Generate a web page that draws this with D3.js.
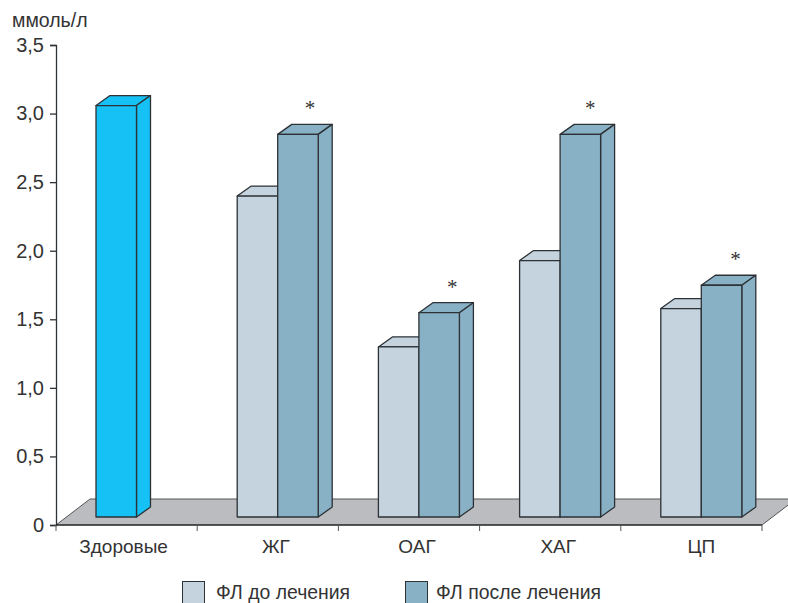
<!DOCTYPE html>
<html>

<head>
    <meta charset="utf-8">
    <title></title>
    <script src="https://d3js.org/d3.v7.min.js"></script>
    <style>
        html,
        body {
            margin: 0;
            background: #fff;
        }

        text {
            font-family: "Liberation Sans", Arial, sans-serif;
            fill: #333;
        }
    </style>
</head>

<body>
    <div id="chart"></div>

    <script>
        // values
        const categories = ["Здоровые", "ЖГ", "ОАГ", "ХАГ", "ЦП"];
        const seriesNames = ["ФЛ до лечения", "ФЛ после лечения"];
        const before = [3.0, 2.34, 1.24, 1.87, 1.52];
        const after = [null, 2.79, 1.49, 2.79, 1.69];
        const marked = [false, true, true, true, true];
        const yTicks = [0, 0.5, 1, 1.5, 2, 2.5, 3, 3.5];

        const colors = { healthy: "#15c1f5", before: "#c5d3de", after: "#89b1c6" };
        const stroke = "#2c3236";

        const width = 788, height = 603;
        const margin = { left: 56, right: 762, top: 45, bottom: 525 };
        const dx = 14, dy = -10;        // depth of the bars
        const floorX = 34, floorY = -26; // depth of the floor
        const lift = 8;                 // bars stand this far above the front edge

        // hand placed nudges, the original labels are not centred on the bands
        const labelShift = [-3, 8, 8, 8, 10];
        const markShift = [0, 0, 1, -2, 2];

        const svg = d3.select("#chart")
            .append("svg")
            .attr("width", width)
            .attr("height", height)
            .style("display", "block");

        const x = d3.scaleBand()
            .domain(categories)
            .range([margin.left, margin.right]);

        const slot = d3.scaleBand()
            .domain(["before", "after"])
            .range([40, 121]);

        const y = d3.scaleLinear()
            .domain([0, 3.5])
            .range([margin.bottom, margin.top]);

        // floor
        svg.append("polygon")
            .attr("points", [
                [margin.left, margin.bottom], [margin.left + floorX, margin.bottom + floorY],
                [margin.right + floorX, margin.bottom + floorY], [margin.right, margin.bottom]
            ].join(" "))
            .attr("fill", "#bbbcc0");

        svg.append("path")
            .attr("d", `M${margin.left},${margin.bottom}L${margin.left + floorX},${margin.bottom + floorY}H${margin.right + floorX - 1}`)
            .attr("fill", "none")
            .attr("stroke", "#555")
            .attr("stroke-width", 1);

        svg.append("path")
            .attr("d", `M${margin.right},${margin.bottom}L${margin.right + floorX},${margin.bottom + floorY}`)
            .attr("fill", "none")
            .attr("stroke", "#555")
            .attr("stroke-width", 1);

        // one 3d bar
        function bar(g, x0, w, value, fill) {
            const x1 = x0 + w;
            const y0 = y(0) - lift;
            const yt = y(value) - lift;
            const g1 = g.append("g")
                .attr("fill", fill)
                .attr("stroke", stroke)
                .attr("stroke-width", 1.3)
                .attr("stroke-linejoin", "round");
            g1.append("path").attr("d", `M${x0},${yt}l${dx},${dy}H${x1 + dx}L${x1},${yt}Z`);
            g1.append("path").attr("d", `M${x1},${yt}l${dx},${dy}V${y0 + dy}L${x1},${y0}Z`);
            g1.append("rect")
                .attr("x", x0)
                .attr("y", yt)
                .attr("width", w)
                .attr("height", y0 - yt);
        }

        const bars = svg.append("g");
        categories.forEach((c, i) => {
            const x0 = x(c);
            bar(bars, x0 + slot("before"), slot.bandwidth(), before[i], i === 0 ? colors.healthy : colors.before);
            if (after[i] !== null) {
                bar(bars, x0 + slot("after"), slot.bandwidth(), after[i], colors.after);
            }
        });

        // significance marks
        svg.append("g").selectAll("text")
            .data(categories.filter((c, i) => marked[i]))
            .enter()
            .append("text")
            .attr("x", d => x(d) + slot("after") + slot.bandwidth() / 2 + 12 + markShift[categories.indexOf(d)])
            .attr("y", d => y(after[categories.indexOf(d)]) - lift - 19)
            .attr("text-anchor", "middle")
            .style("font-family", "'Liberation Serif', serif")
            .style("font-size", "21px")
            .text("*");

        // axes
        const yAxis = svg.append("g")
            .attr("transform", `translate(${margin.left},0)`)
            .call(d3.axisLeft(y)
                .tickValues(yTicks)
                .tickSize(6)
                .tickPadding(6)
                .tickFormat(d => d === 0 ? "0" : d3.format(".1f")(d).replace(".", ",")));

        yAxis.select(".domain").attr("stroke", stroke).attr("stroke-width", 1.3);
        yAxis.selectAll(".tick line").attr("stroke", stroke).attr("stroke-width", 1.3);
        yAxis.attr("font-family", null).attr("font-size", null);
        yAxis.selectAll(".tick text")
            .style("font-size", "20px");

        const xAxis = svg.append("g")
            .attr("transform", `translate(0,${margin.bottom})`)
            .call(d3.axisBottom(x).tickSize(0).tickPadding(15));

        xAxis.select(".domain").remove();
        xAxis.attr("font-family", null).attr("font-size", null);
        xAxis.selectAll(".tick text")
            .attr("dx", (d, i) => labelShift[i])
            .style("font-size", "19px");

        svg.append("line")
            .attr("x1", margin.left).attr("x2", margin.right)
            .attr("y1", margin.bottom).attr("y2", margin.bottom)
            .attr("stroke", "#222")
            .attr("stroke-width", 1.6);

        // ticks between the categories
        svg.append("g").selectAll("line")
            .data(categories.map(c => x(c)).concat([margin.right]))
            .enter()
            .append("line")
            .attr("x1", d => d).attr("x2", d => d)
            .attr("y1", margin.bottom).attr("y2", margin.bottom + 6)
            .attr("stroke", "#555");

        svg.append("text")
            .attr("x", 12)
            .attr("y", 27)
            .style("font-size", "19.5px")
            .text("ммоль/л");

        // legend
        const legendX = [182, 405];
        const legendText = [216, 436];
        const legend = svg.append("g");
        seriesNames.forEach((name, i) => {
            legend.append("rect")
                .attr("x", legendX[i] + 0.5)
                .attr("y", 581.5)
                .attr("width", 22)
                .attr("height", 22)
                .attr("fill", i === 0 ? colors.before : colors.after)
                .attr("stroke", stroke);
            legend.append("text")
                .attr("x", legendText[i])
                .attr("y", 599)
                .style("font-size", "19.4px")
                .text(name);
        });
    </script>
</body>

</html>
